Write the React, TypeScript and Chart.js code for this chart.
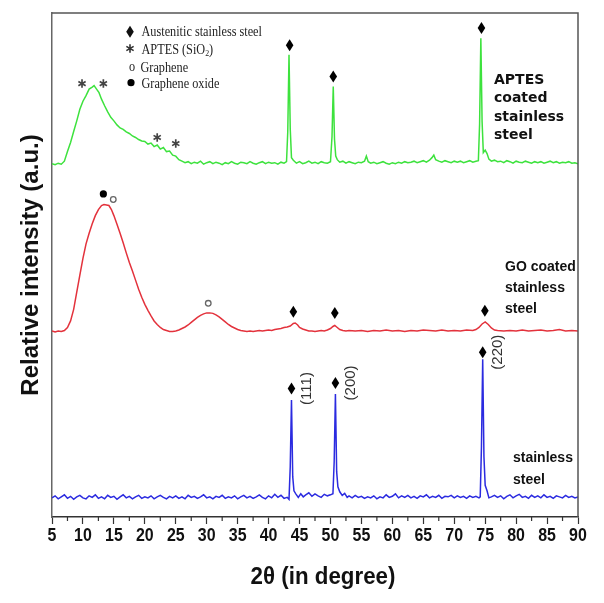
import React, { useEffect, useRef } from 'react';
import { Chart, registerables } from 'chart.js';

Chart.register(...registerables);

// ---------------- data ----------------
const xMin = 5;
const xMax = 90;
const xStep = 5;
const yMin = 0;
const yMax = 100;

// [2θ, relative intensity]
const aptesScan: [number, number][] = [
  [5.0, 70.1], [5.5, 69.9], [6.0, 70.2], [6.5, 70.0], [7.0, 70.6], [7.5, 72.5], [8.0, 74.3], [8.5, 76.5],
  [9.0, 78.6], [9.5, 80.9], [10.0, 82.5], [10.5, 83.6], [11.0, 84.9], [11.5, 85.3], [11.8, 85.6], [12.2, 84.9],
  [12.6, 84.2], [13.0, 82.9], [13.5, 81.6], [14.0, 80.4], [14.5, 79.3], [15.0, 78.6], [15.5, 77.8], [16.0, 77.2],
  [16.5, 76.9], [17.0, 76.4], [17.5, 76.1], [18.0, 75.6], [18.5, 75.3], [19.0, 74.9], [19.5, 74.6], [20.0, 74.5],
  [20.5, 74.0], [21.0, 74.2], [21.5, 73.5], [22.0, 73.8], [22.5, 73.0], [23.0, 73.3], [23.5, 72.5], [24.0, 72.6],
  [24.5, 71.8], [25.0, 71.6], [25.5, 70.9], [26.0, 70.6], [26.5, 70.3], [27.0, 70.5], [27.5, 70.1], [28.0, 70.4],
  [28.5, 70.2], [29.0, 70.6], [29.5, 70.0], [30.0, 70.3], [30.5, 70.5], [31.0, 70.1], [31.5, 70.4], [32.0, 70.2],
  [32.5, 69.9], [33.0, 70.3], [33.5, 70.1], [34.0, 70.5], [34.5, 70.2], [35.0, 70.0], [35.5, 70.4], [36.0, 70.3],
  [36.5, 70.1], [37.0, 70.5], [37.5, 70.2], [38.0, 70.0], [38.5, 70.3], [39.0, 70.5], [39.5, 70.1], [40.0, 70.4],
  [40.5, 70.2], [41.0, 70.3], [41.5, 70.0], [42.0, 70.4], [42.5, 70.2], [42.9, 70.5], [43.1, 76.5], [43.3, 91.7],
  [43.5, 77.0], [43.7, 71.3], [44.0, 70.8], [44.5, 70.2], [45.0, 70.5], [45.5, 70.1], [46.0, 70.3], [46.5, 70.6],
  [47.0, 70.2], [47.5, 70.4], [48.0, 70.1], [48.5, 70.5], [49.0, 70.3], [49.5, 70.2], [50.0, 70.5], [50.25, 75.5],
  [50.45, 85.4], [50.65, 75.0], [50.85, 71.6], [51.1, 70.9], [51.5, 70.4], [52.0, 70.6], [52.5, 70.2], [53.0, 70.5],
  [53.5, 70.3], [54.0, 70.1], [54.5, 70.4], [55.0, 70.3], [55.5, 70.6], [55.8, 71.6], [56.1, 70.5], [56.5, 70.2],
  [57.0, 70.4], [57.5, 70.1], [58.0, 70.3], [58.5, 70.5], [59.0, 70.2], [59.5, 70.0], [60.0, 70.3], [60.5, 70.1],
  [61.0, 70.4], [61.5, 70.2], [62.0, 70.5], [62.5, 70.3], [63.0, 70.4], [63.5, 70.6], [64.0, 70.3], [64.5, 70.5],
  [65.0, 70.7], [65.5, 70.4], [66.0, 70.8], [66.4, 71.3], [66.7, 71.8], [67.0, 70.9], [67.5, 70.6], [68.0, 70.4],
  [68.5, 70.7], [69.0, 70.5], [69.5, 70.3], [70.0, 70.6], [70.5, 70.4], [71.0, 70.6], [71.5, 70.3], [72.0, 70.5],
  [72.5, 70.7], [73.0, 70.4], [73.5, 70.6], [73.9, 70.7], [74.1, 78.0], [74.3, 95.0], [74.5, 78.5], [74.7, 72.3],
  [75.0, 72.8], [75.3, 72.1], [75.6, 71.0], [76.0, 70.6], [76.5, 70.8], [77.0, 70.5], [77.5, 70.6], [78.0, 70.3],
  [78.5, 70.7], [79.0, 70.5], [79.5, 70.2], [80.0, 70.6], [80.5, 70.4], [81.0, 70.3], [81.5, 70.6], [82.0, 70.4],
  [82.5, 70.2], [83.0, 70.5], [83.5, 70.3], [84.0, 70.5], [84.5, 70.2], [85.0, 70.4], [85.5, 70.6], [86.0, 70.3],
  [86.5, 70.5], [87.0, 70.2], [87.5, 70.4], [88.0, 70.3], [88.5, 70.5], [89.0, 70.2], [89.5, 70.3], [90.0, 70.1],
];

const goScan: [number, number][] = [
  [5.0, 36.9], [5.5, 36.7], [6.0, 36.9], [6.5, 36.8], [7.0, 37.0], [7.5, 37.6], [8.0, 38.9], [8.5, 41.2],
  [9.0, 44.6], [9.5, 48.0], [10.0, 51.3], [10.5, 54.2], [11.0, 56.3], [11.5, 58.2], [12.0, 59.8], [12.5, 61.0],
  [13.0, 61.8], [13.4, 62.0], [13.8, 61.9], [14.2, 61.8], [14.6, 61.0], [15.0, 59.8], [15.5, 58.1], [16.0, 56.3],
  [16.5, 54.4], [17.0, 52.4], [17.5, 50.5], [18.0, 48.8], [18.5, 47.0], [19.0, 45.2], [19.5, 43.6], [20.0, 42.2],
  [20.5, 41.0], [21.0, 39.9], [21.5, 38.9], [22.0, 38.2], [22.5, 37.6], [23.0, 37.2], [23.5, 37.0], [24.0, 36.8],
  [24.5, 36.8], [25.0, 36.9], [25.5, 37.1], [26.0, 37.4], [26.5, 37.7], [27.0, 38.1], [27.5, 38.6], [28.0, 39.1],
  [28.5, 39.6], [29.0, 40.0], [29.5, 40.3], [30.0, 40.5], [30.5, 40.5], [31.0, 40.4], [31.5, 40.1], [32.0, 39.7],
  [32.5, 39.2], [33.0, 38.7], [33.5, 38.2], [34.0, 37.8], [34.5, 37.5], [35.0, 37.2], [35.5, 37.0], [36.0, 36.9],
  [36.5, 36.8], [37.0, 36.9], [37.5, 36.8], [38.0, 36.9], [38.5, 37.0], [39.0, 36.9], [39.5, 37.0], [40.0, 37.1],
  [40.5, 37.0], [41.0, 37.2], [41.5, 37.3], [42.0, 37.4], [42.5, 37.6], [43.0, 37.7], [43.5, 37.9], [44.0, 38.4],
  [44.3, 38.5], [44.7, 38.1], [45.0, 37.6], [45.5, 37.3], [46.0, 37.1], [46.5, 36.9], [47.0, 36.9], [47.5, 36.8],
  [48.0, 36.9], [48.5, 37.0], [49.0, 36.9], [49.5, 37.1], [50.0, 37.4], [50.4, 37.8], [50.7, 38.0], [51.0, 37.7],
  [51.5, 37.2], [52.0, 37.0], [52.5, 36.9], [53.0, 37.0], [54.0, 36.9], [55.0, 37.0], [56.0, 36.8], [57.0, 37.0],
  [58.0, 36.9], [59.0, 37.1], [60.0, 36.9], [61.0, 37.0], [62.0, 36.8], [63.0, 37.0], [64.0, 36.9], [65.0, 37.1],
  [66.0, 37.0], [67.0, 36.9], [68.0, 37.1], [69.0, 36.9], [70.0, 37.0], [71.0, 36.9], [72.0, 37.1], [73.0, 37.0],
  [73.5, 37.2], [74.0, 37.6], [74.5, 38.3], [75.0, 38.7], [75.5, 38.2], [76.0, 37.5], [76.5, 37.1], [77.0, 37.0],
  [78.0, 36.9], [79.0, 37.0], [80.0, 36.9], [81.0, 37.1], [82.0, 36.9], [83.0, 37.0], [84.0, 37.1], [85.0, 36.9],
  [86.0, 37.0], [87.0, 37.2], [88.0, 36.9], [89.0, 37.0], [90.0, 36.9],
];

const steelScan: [number, number][] = [
  [5.0, 3.8], [5.5, 4.2], [6.0, 3.6], [6.5, 4.0], [7.0, 4.4], [7.5, 3.7], [8.0, 4.1], [8.5, 3.5],
  [9.0, 4.0], [9.5, 4.3], [10.0, 3.8], [10.5, 3.6], [11.0, 4.2], [11.5, 3.9], [12.0, 4.4], [12.5, 3.7],
  [13.0, 4.0], [13.5, 3.6], [14.0, 4.3], [14.5, 3.9], [15.0, 4.1], [15.5, 3.5], [16.0, 4.0], [16.5, 4.4],
  [17.0, 3.8], [17.5, 4.1], [18.0, 3.6], [18.5, 4.0], [19.0, 4.3], [19.5, 3.7], [20.0, 4.0], [20.5, 3.8],
  [21.0, 4.2], [21.5, 3.6], [22.0, 4.0], [22.5, 4.3], [23.0, 3.9], [23.5, 3.6], [24.0, 4.1], [24.5, 3.8],
  [25.0, 4.2], [25.5, 3.7], [26.0, 4.0], [26.5, 3.6], [27.0, 4.3], [27.5, 3.9], [28.0, 4.1], [28.5, 3.7],
  [29.0, 4.0], [29.5, 4.4], [30.0, 3.8], [30.5, 4.0], [31.0, 3.6], [31.5, 4.1], [32.0, 3.9], [32.5, 4.3],
  [33.0, 3.7], [33.5, 4.0], [34.0, 3.8], [34.5, 4.2], [35.0, 3.6], [35.5, 4.0], [36.0, 4.3], [36.5, 3.8],
  [37.0, 4.1], [37.5, 3.7], [38.0, 4.0], [38.5, 4.4], [39.0, 3.9], [39.5, 3.6], [40.0, 4.2], [40.5, 3.8],
  [41.0, 4.5], [41.5, 3.9], [42.0, 4.3], [42.5, 3.7], [43.0, 3.9], [43.3, 3.5], [43.5, 10.0], [43.7, 23.2],
  [43.9, 8.0], [44.1, 5.2], [44.4, 4.6], [44.8, 3.9], [45.2, 4.6], [45.6, 4.0], [46.0, 4.4], [46.5, 4.8],
  [47.0, 4.1], [47.5, 4.6], [48.0, 4.2], [48.5, 3.9], [49.0, 4.5], [49.5, 4.2], [50.0, 4.4], [50.4, 4.6],
  [50.6, 11.0], [50.8, 24.4], [51.0, 9.0], [51.2, 6.0], [51.5, 5.0], [51.9, 4.3], [52.3, 4.7], [52.7, 3.9],
  [53.0, 4.2], [53.5, 3.8], [54.0, 4.3], [54.5, 3.9], [55.0, 4.1], [55.5, 3.7], [56.0, 4.0], [56.5, 3.8],
  [57.0, 4.2], [57.5, 3.6], [58.0, 4.0], [58.5, 3.8], [59.0, 4.4], [59.5, 3.9], [60.0, 4.1], [60.5, 4.6],
  [61.0, 3.8], [61.5, 4.2], [62.0, 3.9], [62.5, 4.3], [63.0, 3.8], [63.5, 4.1], [64.0, 3.7], [64.5, 4.2],
  [65.0, 4.0], [65.5, 4.4], [66.0, 3.8], [66.5, 4.1], [67.0, 3.9], [67.5, 4.3], [68.0, 3.7], [68.5, 4.1],
  [69.0, 4.0], [69.5, 4.3], [70.0, 3.8], [70.5, 4.2], [71.0, 3.9], [71.5, 4.1], [72.0, 3.7], [72.5, 4.2],
  [73.0, 3.9], [73.5, 4.1], [74.0, 3.8], [74.2, 4.0], [74.4, 14.0], [74.6, 31.3], [74.8, 12.0], [75.0, 6.3],
  [75.3, 5.2], [75.6, 3.8], [76.0, 4.0], [76.5, 4.3], [77.0, 3.9], [77.5, 4.2], [78.0, 3.6], [78.5, 4.1],
  [79.0, 4.4], [79.5, 3.8], [80.0, 4.2], [80.5, 4.5], [81.0, 3.9], [81.5, 4.1], [82.0, 3.7], [82.5, 4.3],
  [83.0, 3.9], [83.5, 4.2], [84.0, 3.8], [84.5, 4.4], [85.0, 3.9], [85.5, 4.1], [86.0, 3.7], [86.5, 4.2],
  [87.0, 4.0], [87.5, 3.8], [88.0, 4.3], [88.5, 3.9], [89.0, 4.1], [89.5, 3.8], [90.0, 4.0],
];

// peak markers [2θ, intensity]
const aptesDiamonds: [number, number][] = [[43.4, 93.6], [50.45, 87.4], [74.4, 97.0]];
const goDiamonds: [number, number][] = [[44.0, 40.7], [50.7, 40.5], [74.95, 40.9]];
const steelDiamonds: [number, number][] = [[43.7, 25.5], [50.8, 26.6], [74.6, 32.7]];
const steelPlanes = ['(111)', '(200)', '(220)'];
const silicaStars: [number, number][] = [[9.85, 86.0], [13.3, 86.0], [22.0, 75.3], [25.0, 74.1]];
const grapheneOxideDots: [number, number][] = [[13.3, 64.1]];
const grapheneRings: [number, number][] = [[14.9, 63.0], [30.25, 42.4]];

const legendLabels = ['Austenitic stainless steel', 'APTES (SiO', '2', ')', 'o', 'Graphene', 'Graphene oxide'];
const aptesLabel = ['APTES', 'coated', 'stainless', 'steel'];
const goLabel = ['GO coated', 'stainless', 'steel'];
const steelLabel = ['stainless', 'steel'];

const xTitle = '2θ (in degree)';
const yTitle = 'Relative intensity (a.u.)';

// ---------------- drawing helpers ----------------
const SANS = "'Liberation Sans', Arial, sans-serif";
const SERIF = "'Liberation Serif', 'Times New Roman', serif";

function diamond(ctx: CanvasRenderingContext2D, cx: number, cy: number) {
  ctx.beginPath();
  ctx.moveTo(cx, cy - 6);
  ctx.lineTo(cx + 3.8, cy);
  ctx.lineTo(cx, cy + 6);
  ctx.lineTo(cx - 3.8, cy);
  ctx.closePath();
  ctx.fill();
}

function star(ctx: CanvasRenderingContext2D, cx: number, cy: number, r: number) {
  ctx.beginPath();
  [90, 30, -30].forEach((deg) => {
    const rad = (deg * Math.PI) / 180;
    ctx.moveTo(cx - r * Math.cos(rad), cy - r * Math.sin(rad));
    ctx.lineTo(cx + r * Math.cos(rad), cy + r * Math.sin(rad));
  });
  ctx.stroke();
}

function squeezedText(
  ctx: CanvasRenderingContext2D, text: string, x: number, y: number, font: string, sx: number, align: CanvasTextAlign = 'left',
) {
  ctx.save();
  ctx.translate(x, y);
  ctx.scale(sx, 1);
  ctx.font = font;
  ctx.textBaseline = 'middle';
  ctx.textAlign = align;
  ctx.fillText(text, 0, 0);
  const w = ctx.measureText(text).width * sx;
  ctx.restore();
  return w;
}

const overlayPlugin = {
  id: 'overlay',
  afterDraw(chart: any) {
    const { ctx, chartArea: a } = chart;
    const xs = chart.scales.x;
    const ys = chart.scales.y;
    const px = (v: number) => xs.getPixelForValue(v);
    const py = (v: number) => ys.getPixelForValue(v);
    ctx.save();

    // frame: top and right
    ctx.strokeStyle = '#555';
    ctx.lineWidth = 1.5;
    ctx.beginPath();
    ctx.moveTo(a.left, a.top);
    ctx.lineTo(a.right, a.top);
    ctx.lineTo(a.right, a.bottom);
    ctx.stroke();

    // minor ticks
    ctx.strokeStyle = '#333';
    ctx.lineWidth = 1.2;
    ctx.beginPath();
    for (let v = xMin + xStep / 2; v < xMax; v += xStep) {
      const p = px(v);
      ctx.moveTo(p, a.bottom);
      ctx.lineTo(p, a.bottom + 4);
    }
    ctx.stroke();

    // x tick labels (condensed bold)
    ctx.fillStyle = '#111';
    xs.ticks.forEach((t: any) => {
      squeezedText(ctx, String(t.value), px(t.value), a.bottom + 19, `bold 19px ${SANS}`, 0.84, 'center');
    });
    // x title
    squeezedText(ctx, xTitle, 323, 577, `bold 24px ${SANS}`, 0.93, 'center');

    // diamonds
    ctx.fillStyle = '#000';
    [...aptesDiamonds, ...goDiamonds, ...steelDiamonds].forEach(([x, y]) => diamond(ctx, px(x), py(y)));

    // plane labels
    ctx.fillStyle = '#333';
    ctx.font = `15px ${SANS}`;
    ctx.textAlign = 'center';
    ctx.textBaseline = 'middle';
    steelDiamonds.forEach(([x, y], i) => {
      ctx.save();
      ctx.translate(px(x) + 15, py(y));
      ctx.rotate(-Math.PI / 2);
      ctx.fillText(steelPlanes[i], 0, 0);
      ctx.restore();
    });

    // APTES stars
    ctx.strokeStyle = '#444';
    ctx.lineWidth = 1.7;
    silicaStars.forEach(([x, y]) => star(ctx, px(x), py(y), 4.2));

    // graphene oxide dots
    ctx.fillStyle = '#000';
    grapheneOxideDots.forEach(([x, y]) => {
      ctx.beginPath();
      ctx.arc(px(x), py(y), 3.6, 0, Math.PI * 2);
      ctx.fill();
    });
    // graphene rings
    ctx.strokeStyle = '#666';
    ctx.lineWidth = 1.3;
    grapheneRings.forEach(([x, y]) => {
      ctx.beginPath();
      ctx.arc(px(x), py(y), 2.8, 0, Math.PI * 2);
      ctx.stroke();
    });

    // legend (inside plot)
    const sx = 0.875;
    const lx = 130;
    const tx = 141.5;
    const f14 = `14px ${SERIF}`;
    ctx.fillStyle = '#111';
    diamond(ctx, lx, 31.7);
    ctx.fillStyle = '#222';
    squeezedText(ctx, legendLabels[0], tx, 32, f14, sx);
    ctx.strokeStyle = '#333';
    ctx.lineWidth = 1.6;
    star(ctx, lx, 48.5, 4.2);
    const w = squeezedText(ctx, legendLabels[1], tx, 50, f14, sx);
    const w2 = squeezedText(ctx, legendLabels[2], tx + w, 54, `9px ${SERIF}`, sx);
    squeezedText(ctx, legendLabels[3], tx + w + w2, 50, f14, sx);
    squeezedText(ctx, legendLabels[4], 129, 67, f14, sx);
    squeezedText(ctx, legendLabels[5], 140.5, 68, f14, sx);
    ctx.fillStyle = '#000';
    ctx.beginPath();
    ctx.arc(131, 82.7, 3.6, 0, Math.PI * 2);
    ctx.fill();
    ctx.fillStyle = '#222';
    squeezedText(ctx, legendLabels[6], tx, 84.5, f14, sx);

    // series labels at right
    ctx.fillStyle = '#111';
    ctx.textAlign = 'left';
    ctx.textBaseline = 'middle';
    ctx.font = `bold 14px 'DejaVu Sans', sans-serif`;
    aptesLabel.forEach((t, i) => ctx.fillText(t, 494, 80 + i * 18.6));
    ctx.font = `bold 14px ${SANS}`;
    goLabel.forEach((t, i) => ctx.fillText(t, 505, 267 + i * 21.3));
    steelLabel.forEach((t, i) => ctx.fillText(t, 513, 458 + i * 22));

    ctx.restore();
  },
};

export default function App() {
  const canvasRef = useRef<HTMLCanvasElement | null>(null);

  useEffect(() => {
    if (!canvasRef.current) return;
    const toPts = (arr: [number, number][]) => arr.map(([x, y]) => ({ x, y }));
    const chart = new Chart(canvasRef.current, {
      type: 'line',
      data: {
        datasets: [
          { label: 'APTES coated stainless steel', data: toPts(aptesScan), borderColor: '#3de23d', borderWidth: 1.5, pointRadius: 0, tension: 0 },
          { label: 'GO coated stainless steel', data: toPts(goScan), borderColor: '#e3323c', borderWidth: 1.5, pointRadius: 0, tension: 0 },
          { label: 'stainless steel', data: toPts(steelScan), borderColor: '#2b2be0', borderWidth: 1.5, pointRadius: 0, tension: 0 },
        ],
      },
      options: {
        responsive: false,
        animation: false,
        events: [],
        layout: { padding: { top: 13, right: 26, left: 0, bottom: 0 } },
        plugins: { legend: { display: false }, tooltip: { enabled: false } },
        scales: {
          x: {
            type: 'linear',
            min: xMin,
            max: xMax,
            afterFit: (s: any) => { s.height = 86; },
            ticks: { stepSize: xStep, autoSkip: false, maxRotation: 0, display: false },
            grid: { display: true, drawOnChartArea: false, drawTicks: true, tickLength: 7, tickColor: '#333', tickWidth: 1.2 },
            border: { display: true, color: '#333', width: 1.5 },
            title: { display: false },
          },
          y: {
            type: 'linear',
            min: yMin,
            max: yMax,
            afterFit: (s: any) => { s.width = 52; },
            ticks: { display: false },
            grid: { display: false },
            border: { display: true, color: '#666', width: 1.5 },
            title: {
              display: true,
              text: yTitle,
              color: '#111',
              font: { family: SANS, size: 24, weight: 'bold' },
              padding: { top: 17, bottom: 0 },
            },
          },
        },
      },
      plugins: [overlayPlugin],
    });
    return () => chart.destroy();
  }, []);

  return (
    <div style={{ position: 'fixed', left: 0, top: 0, width: 604, height: 603, background: '#fff' }}>
      <canvas ref={canvasRef} width={604} height={603} />
    </div>
  );
}
